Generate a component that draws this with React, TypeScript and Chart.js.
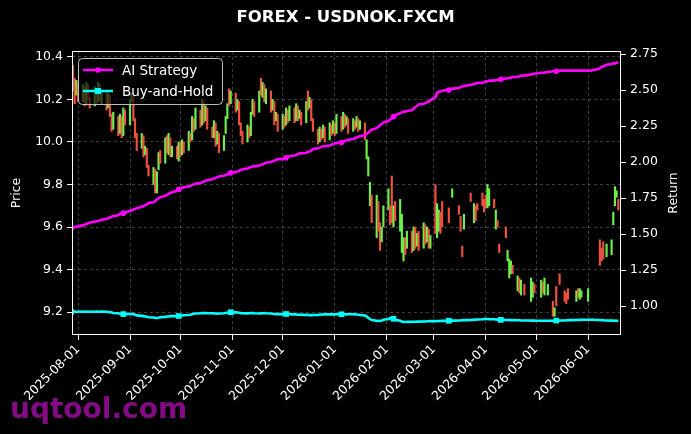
import React, { useEffect, useRef } from 'react';
import { Chart, registerables } from 'chart.js';

Chart.register(...registerables);

const TITLE = 'FOREX - USDNOK.FXCM';
const START_DATE = '2025-07-28';
const END_DATE = '2026-06-19';

const xTickLabels = [
  '2025-08-01', '2025-09-01', '2025-10-01', '2025-11-01', '2025-12-01', '2026-01-01',
  '2026-02-01', '2026-03-01', '2026-04-01', '2026-05-01', '2026-06-01',
];
const priceTicks = [9.2, 9.4, 9.6, 9.8, 10.0, 10.2, 10.4];
const returnTicks = [1.0, 1.25, 1.5, 1.75, 2.0, 2.25, 2.5, 2.75];

// one row per trading week (Mon..Fri), null = no candle
const opens: (number | null)[] = [
  10.20, 10.36, 10.30, 10.22, 10.28,
  10.19, 10.26, 10.18, 10.27, 10.21,
  10.17, 10.25, 10.19, 10.27, 10.18,
  10.24, 10.16, 10.22, 10.13, 10.06,
  10.12, 10.04, 10.12, 10.03, 10.15,
  10.08, 10.19, 10.22, 10.11, 10.04,
  9.97, 10.03, 9.94, 9.97, 9.89,
  9.80, 9.87, 9.76, 9.87, 9.96,
  9.90, 10.03, 9.94, 10.02, 9.93,
  9.98, 9.91, 10.00, 9.94, 10.00,
  9.96, 10.04, 10.01, 10.11, 10.06,
  10.15, 10.08, 10.19, 10.10, 10.16,
  10.07, 10.02, 10.09, 9.99, 10.04,
  9.96, 10.04, 10.11, 10.25, 10.18,
  10.23, 10.15, 10.19, 10.09, 10.05,
  10.00, 10.07, 10.03, 10.13, 10.19,
  10.14, 10.30, 10.21, 10.27, 10.18,
  10.24, 10.15, 10.19, 10.10, 10.13,
  10.06, 10.12, 10.08, 10.15, 10.10,
  10.16, 10.10, 10.17, 10.11, 10.14,
  10.09, 10.24, 10.16, 10.20, 10.11,
  10.06, 10.00, 10.06, 10.02, 10.07,
  10.01, 10.08, 10.04, 10.09, 10.04,
  10.12, 10.06, 10.13, 10.08, 10.11,
  10.05, 10.10, 10.07, 10.11, 10.06,
  10.09, 9.92, 9.84, 9.70, 9.75,
  9.55, 9.72, 9.62, 9.53, 9.60,
  9.68, 9.70, 9.84, 9.60, 9.72,
  9.58, 9.48, 9.44, 9.55, 9.50,
  9.58, 9.49, 9.60, 9.51, 9.58,
  9.50, 9.61, 9.53, 9.59, 9.50,
  9.80, 9.55, 9.58, 9.67, 9.72,
  null, 9.69, null, 9.74, null,
  9.70, 9.65, 9.51, 9.59, null,
  9.76, null, 9.62, 9.70, 9.71,
  9.76, 9.73, 9.75, 9.69, 9.70,
  9.73, 9.59, 9.63, 9.52, null,
  9.60, 9.44, 9.36, 9.38, 9.42,
  9.30, 9.36, 9.28, null, 9.33,
  null, 9.25, 9.27, 9.33, null,
  9.27, 9.34, 9.28, null, 9.28,
  9.25, 9.18, 9.32, null, 9.38,
  9.30, 9.29, 9.31, null, null,
  9.25, 9.31, 9.26, 9.27, null,
  9.25, null, null, null, null,
  9.54, 9.50, 9.53, null, 9.46,
  9.47, 9.61, 9.70, 9.74, 9.73,
];

const closes: (number | null)[] = [
  10.33, 10.24, 10.18, 10.29, 10.19,
  10.27, 10.17, 10.28, 10.20, 10.16,
  10.26, 10.18, 10.28, 10.19, 10.24,
  10.15, 10.23, 10.12, 10.05, 10.14,
  10.03, 10.13, 10.02, 10.16, 10.08,
  10.20, 10.23, 10.10, 10.02, 9.96,
  10.04, 9.93, 9.98, 9.88, 9.84,
  9.88, 9.76, 9.86, 9.95, 9.90,
  10.02, 9.95, 10.04, 9.93, 9.98,
  9.92, 10.00, 9.93, 10.01, 9.95,
  10.05, 10.00, 10.12, 10.05, 10.16,
  10.07, 10.20, 10.09, 10.17, 10.06,
  10.02, 10.10, 9.98, 10.05, 9.95,
  10.03, 10.12, 10.18, 10.17, 10.24,
  10.14, 10.20, 10.08, 10.03, 9.99,
  10.08, 10.02, 10.14, 10.20, 10.12,
  10.24, 10.22, 10.28, 10.19, 10.25,
  10.14, 10.20, 10.08, 10.14, 10.05,
  10.13, 10.07, 10.16, 10.09, 10.17,
  10.09, 10.18, 10.10, 10.15, 10.08,
  10.19, 10.15, 10.21, 10.10, 10.05,
  9.99, 10.07, 10.01, 10.08, 10.00,
  10.09, 10.03, 10.10, 10.03, 10.13,
  10.05, 10.14, 10.07, 10.12, 10.04,
  10.11, 10.06, 10.12, 10.05, 10.10,
  10.01, 10.01, 9.93, 9.81, 9.62,
  9.75, 9.58, 9.49, 9.60, 9.70,
  9.78, 9.61, 9.62, 9.70, 9.63,
  9.73, 9.66, 9.55, 9.47, 9.58,
  9.48, 9.60, 9.50, 9.57, 9.49,
  9.62, 9.52, 9.60, 9.50, 9.56,
  9.57, 9.71, 9.68, 9.57, 9.60,
  null, 9.62, null, 9.78, null,
  9.66, 9.58, 9.46, 9.66, null,
  9.72, null, 9.71, 9.63, 9.68,
  9.70, 9.67, 9.69, 9.80, 9.78,
  9.69, 9.68, 9.60, 9.48, null,
  9.55, 9.49, 9.45, 9.44, 9.38,
  9.37, 9.29, 9.35, null, 9.28,
  null, 9.36, 9.34, 9.29, null,
  9.35, 9.29, 9.36, null, 9.33,
  9.18, 9.22, 9.23, null, 9.33,
  9.25, 9.24, 9.26, null, null,
  9.30, 9.27, 9.31, 9.30, null,
  9.31, null, null, null, null,
  9.42, 9.44, 9.45, null, 9.52,
  9.54, 9.67, 9.79, 9.77, 9.68,
];

const aiStrategy: number[] = [
  1.540, 1.545, 1.550, 1.550, 1.555,
  1.560, 1.565, 1.570, 1.575, 1.580,
  1.585, 1.590, 1.590, 1.595, 1.600,
  1.605, 1.610, 1.615, 1.620, 1.625,
  1.630, 1.640, 1.645, 1.645, 1.650,
  1.660, 1.665, 1.670, 1.675, 1.680,
  1.690, 1.695, 1.700, 1.705, 1.715,
  1.720, 1.730, 1.740, 1.750, 1.755,
  1.765, 1.770, 1.780, 1.785, 1.790,
  1.800, 1.810, 1.815, 1.820, 1.825,
  1.830, 1.835, 1.840, 1.845, 1.850,
  1.855, 1.860, 1.865, 1.870, 1.875,
  1.880, 1.885, 1.890, 1.895, 1.900,
  1.905, 1.910, 1.915, 1.920, 1.925,
  1.930, 1.935, 1.940, 1.945, 1.950,
  1.955, 1.960, 1.965, 1.970, 1.970,
  1.975, 1.980, 1.985, 1.990, 1.995,
  2.000, 2.005, 2.010, 2.015, 2.020,
  2.020, 2.025, 2.030, 2.035, 2.040,
  2.045, 2.050, 2.055, 2.060, 2.060,
  2.065, 2.070, 2.075, 2.080, 2.090,
  2.095, 2.100, 2.105, 2.110, 2.110,
  2.115, 2.120, 2.125, 2.130, 2.130,
  2.135, 2.140, 2.145, 2.150, 2.155,
  2.160, 2.165, 2.170, 2.175, 2.180,
  2.185, 2.195, 2.205, 2.215, 2.225,
  2.235, 2.245, 2.255, 2.265, 2.275,
  2.285, 2.295, 2.305, 2.315, 2.325,
  2.340, 2.345, 2.350, 2.350, 2.355,
  2.360, 2.370, 2.380, 2.390, 2.400,
  2.405, 2.410, 2.415, 2.420, 2.430,
  2.450, 2.480, 2.490, 2.490, 2.495,
  2.500, 2.500, 2.505, 2.510, 2.510,
  2.515, 2.520, 2.525, 2.530, 2.530,
  2.535, 2.540, 2.540, 2.545, 2.550,
  2.550, 2.555, 2.560, 2.560, 2.565,
  2.565, 2.570, 2.570, 2.575, 2.575,
  2.580, 2.580, 2.585, 2.585, 2.590,
  2.590, 2.595, 2.600, 2.600, 2.600,
  2.605, 2.610, 2.610, 2.615, 2.615,
  2.620, 2.620, 2.620, 2.625, 2.625,
  2.630, 2.630, 2.630, 2.630, 2.635,
  2.635, 2.635, 2.635, 2.635, 2.635,
  2.635, 2.635, 2.635, 2.635, 2.635,
  2.635, 2.635, 2.635, 2.640, 2.640,
  2.650, 2.660, 2.665, 2.670, 2.675,
  2.680, 2.685, 2.685, 2.690, 2.690,
];

const buyAndHold: number[] = [
  0.960, 0.960, 0.961, 0.960, 0.960,
  0.961, 0.960, 0.960, 0.961, 0.960,
  0.960, 0.961, 0.960, 0.960, 0.961,
  0.960, 0.959, 0.958, 0.955, 0.952,
  0.950, 0.947, 0.945, 0.944, 0.944,
  0.945, 0.946, 0.944, 0.940, 0.935,
  0.932, 0.930, 0.928, 0.925, 0.922,
  0.920, 0.918, 0.917, 0.919, 0.922,
  0.925, 0.927, 0.928, 0.930, 0.930,
  0.930, 0.931, 0.932, 0.934, 0.936,
  0.938, 0.940, 0.943, 0.946, 0.948,
  0.950, 0.951, 0.952, 0.951, 0.950,
  0.950, 0.949, 0.948, 0.947, 0.948,
  0.950, 0.952, 0.954, 0.956, 0.957,
  0.956, 0.955, 0.953, 0.951, 0.950,
  0.949, 0.950, 0.951, 0.952, 0.950,
  0.948, 0.949, 0.950, 0.951, 0.950,
  0.948, 0.946, 0.945, 0.944, 0.944,
  0.944, 0.945, 0.945, 0.944, 0.943,
  0.942, 0.941, 0.940, 0.941, 0.940,
  0.939, 0.938, 0.937, 0.937, 0.938,
  0.939, 0.940, 0.941, 0.941, 0.942,
  0.942, 0.943, 0.942, 0.942, 0.943,
  0.943, 0.942, 0.942, 0.942, 0.943,
  0.943, 0.942, 0.941, 0.940, 0.938,
  0.935, 0.928, 0.918, 0.910, 0.903,
  0.898, 0.896, 0.897, 0.900, 0.905,
  0.910, 0.915, 0.917, 0.912, 0.905,
  0.898, 0.892, 0.889, 0.889, 0.890,
  0.890, 0.891, 0.891, 0.892, 0.892,
  0.893, 0.893, 0.894, 0.894, 0.895,
  0.895, 0.896, 0.896, 0.896, 0.897,
  0.897, 0.898, 0.898, 0.899, 0.899,
  0.900, 0.900, 0.901, 0.902, 0.902,
  0.903, 0.904, 0.905, 0.906, 0.907,
  0.908, 0.909, 0.910, 0.910, 0.909,
  0.908, 0.907, 0.906, 0.905, 0.904,
  0.903, 0.903, 0.902, 0.902, 0.902,
  0.901, 0.901, 0.900, 0.900, 0.900,
  0.900, 0.899, 0.899, 0.899, 0.898,
  0.898, 0.898, 0.898, 0.898, 0.898,
  0.898, 0.898, 0.899, 0.899, 0.900,
  0.900, 0.901, 0.901, 0.902, 0.902,
  0.903, 0.903, 0.904, 0.904, 0.905,
  0.905, 0.905, 0.905, 0.905, 0.904,
  0.903, 0.902, 0.901, 0.900, 0.900,
  0.899, 0.899, 0.898, 0.898, 0.897,
];

const FONT = "'DejaVu Sans', sans-serif";
const UP = '#6cf04a';
const DOWN = '#f0503f';
const AI_COLOR = '#ff00ff';
const BH_COLOR = '#00ffff';
const GRID = 'rgba(140,140,140,0.55)';
const MARK_EVERY = 23;
const MARK_COUNT = 10;

const DAY_MS = 86400000;
const dayOf = (s: string) => Date.parse(s + 'T00:00:00Z') / DAY_MS;

function tradingDays(): number[] {
  const out: number[] = [];
  for (let d = dayOf(START_DATE); d <= dayOf(END_DATE); d++) {
    const wd = new Date(d * DAY_MS).getUTCDay();
    if (wd !== 0 && wd !== 6) out.push(d);
  }
  return out;
}

const isMarker = (i: number) => i % MARK_EVERY === 0 && i / MARK_EVERY < MARK_COUNT;

export default function App() {
  const ref = useRef<HTMLCanvasElement | null>(null);

  useEffect(() => {
    if (!ref.current) return;
    const days = tradingDays();

    const candles: any[] = [];
    days.forEach((d, i) => {
      const o = opens[i];
      const c = closes[i];
      if (o != null && c != null) candles.push({ x: d, y: [o, c] });
    });
    const aiData = days.map((d, i) => ({ x: d, y: aiStrategy[i] }));
    const bhData = days.map((d, i) => ({ x: d, y: buyAndHold[i] }));

    const tickFontCss = `12.5px ${FONT}`;

    const bgPlugin = {
      id: 'bg',
      beforeDraw(chart: any) {
        const { ctx, width, height } = chart;
        ctx.save();
        ctx.fillStyle = '#000';
        ctx.fillRect(0, 0, width, height);
        ctx.font = `bold 28px ${FONT}`;
        ctx.fillStyle = '#850a85';
        ctx.textBaseline = 'alphabetic';
        ctx.textAlign = 'left';
        ctx.fillText('uqtool.com', 10, 418);
        ctx.restore();
      },
    };

    const framePlugin = {
      id: 'frame',
      afterDatasetsDraw(chart: any) {
        const { ctx, chartArea: a } = chart;
        ctx.save();
        ctx.strokeStyle = '#fff';
        ctx.lineWidth = 1;
        ctx.strokeRect(Math.round(a.left) + 0.5, Math.round(a.top) + 0.5,
          Math.round(a.right - a.left) - 1, Math.round(a.bottom - a.top) - 1);

        // legend
        const lx = 78.5, ly = 58.5, lw = 144, lh = 46;
        ctx.beginPath();
        (ctx as any).roundRect(lx, ly, lw, lh, 4);
        ctx.fillStyle = 'rgba(0,0,0,0.65)';
        ctx.fill();
        ctx.strokeStyle = 'rgba(210,210,210,0.9)';
        ctx.lineWidth = 1;
        ctx.stroke();

        const entries = [
          { label: 'AI Strategy', color: AI_COLOR, y: 70, marker: 'circle' },
          { label: 'Buy-and-Hold', color: BH_COLOR, y: 91, marker: 'rect' },
        ];
        entries.forEach((e) => {
          ctx.strokeStyle = e.color;
          ctx.lineWidth = 2.5;
          ctx.beginPath();
          ctx.moveTo(83, e.y);
          ctx.lineTo(113, e.y);
          ctx.stroke();
          ctx.fillStyle = e.color;
          if (e.marker === 'circle') {
            ctx.beginPath();
            ctx.arc(98, e.y, 2.8, 0, Math.PI * 2);
            ctx.fill();
          } else {
            ctx.fillRect(95, e.y - 3, 6, 6);
          }
          ctx.fillStyle = '#fff';
          ctx.font = `13.5px ${FONT}`;
          ctx.textBaseline = 'middle';
          ctx.textAlign = 'left';
          ctx.fillText(e.label, 122, e.y + 1);
        });
        ctx.restore();
      },
      afterDraw(chart: any) {
        const { ctx, chartArea: a } = chart;
        ctx.save();
        ctx.translate(674, (a.top + a.bottom) / 2);
        ctx.rotate(-Math.PI / 2);
        ctx.fillStyle = '#fff';
        ctx.font = tickFontCss;
        ctx.textAlign = 'center';
        ctx.textBaseline = 'middle';
        ctx.fillText('Return', 0, 0);
        ctx.restore();
      },
    };

    const tickFont = { family: FONT, size: 12.5 };

    const chart = new Chart(ref.current, {
      type: 'bar',
      data: {
        datasets: [
          {
            type: 'line',
            label: 'AI Strategy',
            data: aiData,
            yAxisID: 'y1',
            borderColor: AI_COLOR,
            backgroundColor: AI_COLOR,
            borderWidth: 2.6,
            pointRadius: (c: any) => (isMarker(c.dataIndex) ? 2.8 : 0),
            pointStyle: 'circle',
            pointBorderWidth: 0,
            pointBackgroundColor: AI_COLOR,
            tension: 0,
            order: 0,
          } as any,
          {
            type: 'line',
            label: 'Buy-and-Hold',
            data: bhData,
            yAxisID: 'y1',
            borderColor: BH_COLOR,
            backgroundColor: BH_COLOR,
            borderWidth: 2.6,
            pointRadius: (c: any) => (isMarker(c.dataIndex) ? 4 : 0),
            pointStyle: 'rect',
            pointBorderWidth: 0,
            pointBackgroundColor: BH_COLOR,
            tension: 0,
            order: 1,
          } as any,
          {
            type: 'bar',
            label: 'Price',
            data: candles,
            yAxisID: 'y',
            barThickness: 1.5,
            borderWidth: 0,
            borderSkipped: false,
            grouped: false,
            backgroundColor: (c: any) => {
              const r = c.raw;
              if (!r || !r.y) return UP;
              return r.y[1] >= r.y[0] ? UP : DOWN;
            },
            order: 2,
          } as any,
        ],
      },
      options: {
        responsive: false,
        animation: false,
        devicePixelRatio: 1,
        events: [],
        layout: { padding: 0 },
        plugins: {
          legend: { display: false },
          tooltip: { enabled: false },
          title: {
            display: true,
            text: TITLE,
            color: '#fff',
            font: { family: FONT, size: 16.5, weight: 'bold' },
            padding: { top: 8, bottom: 23.2 },
          },
        },
        scales: {
          x: {
            type: 'linear',
            offset: false,
            min: dayOf('2025-07-28') + 0.42,
            max: dayOf('2026-06-20') + 0.6,
            afterBuildTicks: (s: any) => {
              s.ticks = xTickLabels.map((l) => ({ value: dayOf(l) }));
            },
            afterFit: (s: any) => {
              s.height = 99;
            },
            ticks: {
              color: '#fff',
              font: tickFont,
              maxRotation: 45,
              minRotation: 45,
              autoSkip: false,
              padding: 2,
              callback: (_v: any, i: number) => xTickLabels[i],
            },
            grid: { offset: false, color: GRID, lineWidth: 0.8, tickColor: '#fff', tickLength: 5, tickWidth: 1 },
            border: { display: false, dash: [3, 3] },
          } as any,
          y: {
            type: 'linear',
            position: 'left',
            min: 9.092,
            max: 10.428,
            afterBuildTicks: (s: any) => {
              s.ticks = priceTicks.map((v) => ({ value: v }));
            },
            afterFit: (s: any) => {
              s.width = 72;
            },
            ticks: {
              color: '#fff',
              font: tickFont,
              padding: 4,
              callback: (v: any) => Number(v).toFixed(1),
            },
            title: {
              display: true,
              text: 'Price',
              color: '#fff',
              font: tickFont,
              padding: { top: 9.5, bottom: 0 },
            },
            grid: { color: GRID, lineWidth: 0.8, tickColor: '#fff', tickLength: 5, tickWidth: 1 },
            border: { display: false, dash: [3, 3] },
          } as any,
          y1: {
            type: 'linear',
            position: 'right',
            min: 0.799,
            max: 2.771,
            afterBuildTicks: (s: any) => {
              s.ticks = returnTicks.map((v) => ({ value: v }));
            },
            afterFit: (s: any) => {
              s.width = 70;
            },
            ticks: {
              color: '#fff',
              font: tickFont,
              padding: 4,
              callback: (v: any) => Number(v).toFixed(2),
            },
            title: { display: false },
            grid: { drawOnChartArea: false, tickColor: '#fff', tickLength: 5, tickWidth: 1, color: GRID },
            border: { display: false },
          } as any,
        },
      } as any,
      plugins: [bgPlugin, framePlugin],
    });

    return () => chart.destroy();
  }, []);

  return (
    <div style={{ position: 'fixed', left: 0, top: 0, width: 691, height: 434, background: '#000' }}>
      <canvas ref={ref} width={691} height={434} style={{ display: 'block', width: 691, height: 434 }} />
    </div>
  );
}
